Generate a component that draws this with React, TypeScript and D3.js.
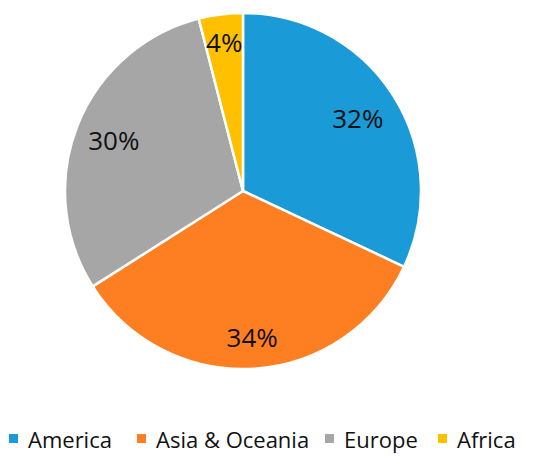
import React from 'react';
import * as d3 from 'd3';

const regions = ['America', 'Asia & Oceania', 'Europe', 'Africa'];
const shares = [32, 34, 30, 4];
const colors = ['#1a9ad7', '#fe7f22', '#a6a6a6', '#ffc000'];

const W = 550;
const H = 465;
const cx = 243;
const cy = 191;
const R = 178;

// label distance from centre for each slice (Excel "best fit" look)
const labelR = [136, 146, 139, 150];
// legend positions (square x)
const legendX = [9, 137, 325, 438];

export default function App() {
  const pie = d3.pie<number>().sort(null).value(d => d);
  const arcs = pie(shares);
  const arc = d3.arc<d3.PieArcDatum<number>>().innerRadius(0).outerRadius(R);
  const font = "'Open Sans', 'Segoe UI', sans-serif";

  return (
    <svg width={W} height={H} style={{position: 'absolute', left: 0, top: 0}}>
      <rect width={W} height={H} fill="#fff" />
      <g transform={`translate(${cx},${cy})`}>
        {arcs.map((a, i) => (
          <path key={i} d={arc(a) || ''} fill={colors[i]} stroke="#fff" strokeWidth={2.5} strokeLinejoin="round" />
        ))}
        {arcs.map((a, i) => {
          const lr = labelR[i];
          const c = d3.arc<d3.PieArcDatum<number>>().innerRadius(lr).outerRadius(lr).centroid(a);
          return (
            <text key={i} x={c[0]} y={c[1]} textAnchor="middle" dominantBaseline="central"
              fontFamily={font} fontSize={26} fill="#111">
              {a.value + '%'}
            </text>
          );
        })}
      </g>
      <g>
        {regions.map((r, i) => (
          <g key={r}>
            <rect x={legendX[i]} y={434} width={9} height={9} fill={colors[i]} />
            <text x={legendX[i] + 19} y={448} fontFamily={font} fontSize={22} fill="#111">{r}</text>
          </g>
        ))}
      </g>
    </svg>
  );
}
